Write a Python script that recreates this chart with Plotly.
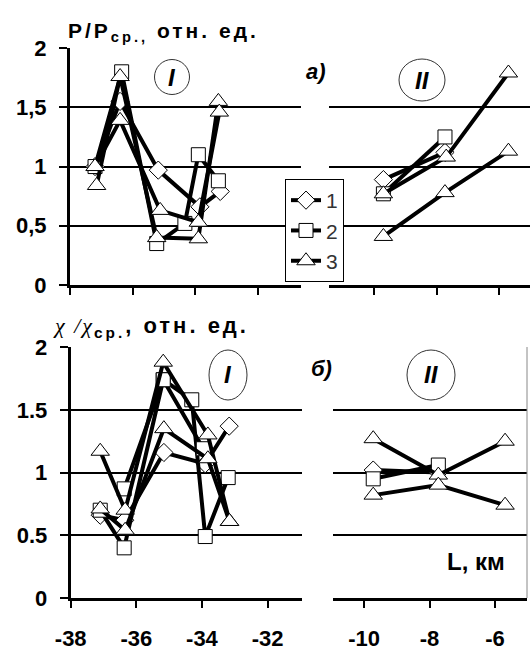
import plotly.graph_objects as go

# ---------------- data ----------------
# panel a), zone I  (L, km ; P/Pср.)
a1_x1 = [-37.2, -36.4, -35.18, -33.85, -33.2]
a1_y1 = [1.00, 1.55, 0.97, 0.66, 0.79]
a1_x2 = [-37.2, -36.35, -35.23, -34.33, -33.9, -33.26]
a1_y2 = [1.00, 1.80, 0.35, 0.52, 1.10, 0.88]
a1_x3a = [-37.15, -36.4, -35.23, -33.9, -33.26]
a1_y3a = [0.84, 1.76, 0.40, 0.39, 1.55]
a1_x3b = [-37.2, -36.4, -35.12, -33.9, -33.23]
a1_y3b = [1.00, 1.39, 0.63, 0.53, 1.46]
# panel a), zone II
a2_x1 = [-9.71, -7.74]
a2_y1 = [0.89, 1.12]
a2_x2 = [-9.71, -7.74]
a2_y2 = [0.77, 1.25]
a2_x3a = [-9.71, -7.70, -5.71]
a2_y3a = [0.77, 1.08, 1.79]
a2_x3b = [-9.71, -7.74, -5.71]
a2_y3b = [0.41, 0.78, 1.13]
# panel б), zone I  (χ/χср.)
b1_x1 = [-37.1, -36.35, -35.16, -33.9, -33.17]
b1_y1 = [0.66, 0.62, 1.16, 1.07, 1.37]
b1_x2a = [-36.37, -35.18, -34.31, -33.9, -33.2]
b1_y2a = [0.87, 1.74, 1.58, 0.49, 0.96]
b1_x2b = [-37.1, -36.37, -35.18, -33.96]
b1_y2b = [0.70, 0.40, 1.74, 1.19]
b1_x3a = [-37.1, -36.34, -35.18, -33.82, -33.16]
b1_y3a = [1.17, 0.70, 1.88, 1.30, 0.61]
b1_x3b = [-37.1, -36.34, -35.16, -33.82, -33.16]
b1_y3b = [0.71, 0.54, 1.35, 1.11, 0.61]
# panel б), zone II
b2_x1 = [-9.72, -7.73]
b2_y1 = [1.02, 1.00]
b2_x2 = [-9.72, -7.73]
b2_y2 = [0.95, 1.06]
b2_x3a = [-9.72, -7.73, -5.69]
b2_y3a = [1.27, 0.98, 1.25]
b2_x3b = [-9.72, -7.73, -5.69]
b2_y3b = [0.82, 0.90, 0.74]

series_names = ["1", "2", "3"]
y_tickvals = [0, 0.5, 1, 1.5, 2]
ytext_a = ["0", "0,5", "1", "1,5", "2"]
ytext_b = ["0", "0.5", "1", "1.5", "2"]
x_ticks_I = [-38, -36, -34, -32]
x_ticks_II = [-10, -8, -6]

# ---------------- styling ----------------
W, H = 530, 650
def PX(px):
    return px / W
def PY(py):
    return 1 - py / H

FONT = "Liberation Sans"
sym = {"1": "diamond", "2": "square", "3": "triangle-up"}
msize = {"1": 14, "2": 14, "3": 16}

fig = go.Figure()

def add(x, y, s, xa, ya, show=False):
    fig.add_trace(go.Scatter(
        x=x, y=y, mode="lines+markers", name=s, legendgroup="g" + s,
        showlegend=show, xaxis=xa, yaxis=ya,
        line=dict(color="black", width=4),
        marker=dict(symbol=sym[s], size=msize[s], color="white",
                    line=dict(color="black", width=1)),
    ))

add(a1_x1, a1_y1, "1", "x", "y", True)
add(a1_x2, a1_y2, "2", "x", "y", True)
add(a1_x3a, a1_y3a, "3", "x", "y", True)
add(a1_x3b, a1_y3b, "3", "x", "y")
add(a2_x1, a2_y1, "1", "x2", "y2")
add(a2_x2, a2_y2, "2", "x2", "y2")
add(a2_x3a, a2_y3a, "3", "x2", "y2")
add(a2_x3b, a2_y3b, "3", "x2", "y2")
add(b1_x1, b1_y1, "1", "x3", "y3")
add(b1_x2a, b1_y2a, "2", "x3", "y3")
add(b1_x2b, b1_y2b, "2", "x3", "y3")
add(b1_x3a, b1_y3a, "3", "x3", "y3")
add(b1_x3b, b1_y3b, "3", "x3", "y3")
add(b2_x1, b2_y1, "1", "x4", "y4")
add(b2_x2, b2_y2, "2", "x4", "y4")
add(b2_x3a, b2_y3a, "3", "x4", "y4")
add(b2_x3b, b2_y3b, "3", "x4", "y4")

tickfont = dict(family=FONT, size=22, color="black", weight="bold")

def bold(labels):
    return ["<b>" + str(t) + "</b>" for t in labels]

def xax(domain, rng, ticks, labels, anchor):
    d = dict(domain=domain, range=rng, anchor=anchor, tickmode="array",
             tickvals=ticks, ticktext=bold(ticks), showgrid=False,
             zeroline=False, automargin=False,
             showline=True, linecolor="black", linewidth=3,
             ticks="outside", ticklen=7, tickwidth=2, tickcolor="black",
             showticklabels=labels, tickfont=tickfont)
    if labels:
        d["ticklabelstandoff"] = 12
    return d

def yax(domain, anchor, text):
    d = dict(domain=domain, range=[0, 2.001], anchor=anchor, tickmode="array",
             tickvals=y_tickvals, showgrid=True, gridcolor="black",
             gridwidth=1.5, zeroline=False, automargin=False)
    if text is not None:
        d.update(showline=True, linecolor="black", linewidth=3,
                 ticks="outside", ticklen=8, tickwidth=2, tickcolor="black",
                 ticktext=bold(text), showticklabels=True, tickfont=tickfont,
                 ticklabelstandoff=8)
    else:
        d.update(showline=False, ticks="", showticklabels=False)
    return d

top_dom = [PY(285), PY(48)]
bot_dom = [PY(598), PY(347)]

fig.update_layout(
    width=W, height=H,
    margin=dict(l=0, r=0, t=0, b=0, pad=0, autoexpand=False),
    paper_bgcolor="white", plot_bgcolor="white",
    xaxis=xax([PX(70), PX(300.7)], [-38, -30.63], x_ticks_I, False, "y"),
    xaxis2=xax([PX(328.7), 1.0], [-11.46, -5.02], x_ticks_II, False, "y2"),
    xaxis3=xax([PX(70.7), PX(301.7)], [-38, -30.96], x_ticks_I, True, "y3"),
    xaxis4=xax([PX(333.3), PX(527)], [-10.94, -5.02], x_ticks_II, True, "y4"),
    yaxis=yax(top_dom, "x", ytext_a),
    yaxis2=yax(top_dom, "x2", None),
    yaxis3=yax(bot_dom, "x3", ytext_b),
    yaxis4=yax(bot_dom, "x4", None),
    showlegend=True,
    legend=dict(x=PX(285), y=PY(179), xanchor="left", yanchor="top",
                bordercolor="black", borderwidth=1, bgcolor="white",
                font=dict(family=FONT, size=21, color="#333"),
                traceorder="grouped", tracegroupgap=0, itemwidth=30),
)

ann = []
def text(px, py, t, size=20, xanchor="center", family=FONT):
    ann.append(dict(x=PX(px), y=PY(py), xref="paper", yref="paper", text=t,
                    showarrow=False, xanchor=xanchor, yanchor="middle",
                    font=dict(family=family, size=size, color="black")))

SP = "<span style='letter-spacing:3px'>"
text(66, 32, SP + "<b>P/P<sub>ср.,</sub> отн. ед.</b></span>", size=21, xanchor="left")
text(51, 327, "<span style='font-family:Liberation Serif;letter-spacing:2px'><i>χ /χ</i></span>"
              + SP + "<b><sub>ср.</sub>, отн. ед.</b></span>", size=22, xanchor="left")
text(316, 72, "<b><i>а)</i></b>", size=22)
text(321, 368, "<b><i>б)</i></b>", size=22)
text(476, 561, "<b>L, км</b>", size=24)
text(172, 77, "<b><i>I</i></b>", size=24)
text(422, 80, "<b><i>II</i></b>", size=24)
text(228, 375, "<b><i>I</i></b>", size=24)
text(431, 375, "<b><i>II</i></b>", size=24)
fig.update_layout(annotations=ann)

shapes = []
for (x0, x1, y0, y1) in [(154.5, 189.5, 59.5, 94.5), (399, 445, 59, 101),
                         (209, 247, 350, 400), (407, 455, 350, 400)]:
    shapes.append(dict(type="circle", xref="paper", yref="paper",
                       x0=PX(x0), x1=PX(x1), y0=PY(y1), y1=PY(y0),
                       line=dict(color="#333", width=1)))
shapes.append(dict(type="line", xref="paper", yref="paper",
                   x0=PX(527), x1=PX(527), y0=bot_dom[0], y1=bot_dom[1],
                   line=dict(color="#888", width=1)))
fig.update_layout(shapes=shapes)

fig.write_html("out.html", config={"displayModeBar": False},
               post_script="document.body.style.margin='0';"
                           "document.body.style.overflow='hidden';")
